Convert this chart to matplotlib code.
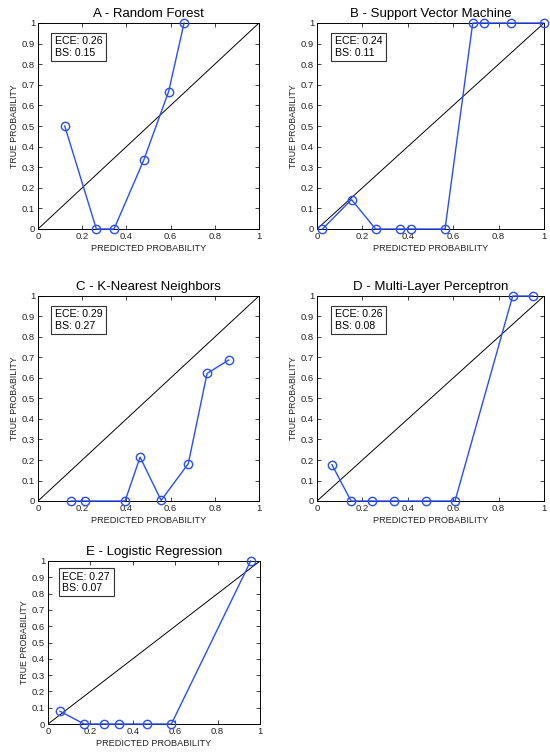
import numpy as np
import matplotlib
matplotlib.use("Agg")
import matplotlib.pyplot as plt

plt.rcParams['font.family'] = ['Liberation Sans', 'DejaVu Sans']

titles = ["A - Random Forest", "B - Support Vector Machine", "C - K-Nearest Neighbors",
          "D - Multi-Layer Perceptron", "E - Logistic Regression"]
ece = [0.26, 0.24, 0.29, 0.26, 0.27]
bs = [0.15, 0.11, 0.27, 0.08, 0.07]

rf_x = [0.121, 0.264, 0.344, 0.478, 0.591, 0.661]
rf_y = [0.5, 0.0, 0.0, 0.333, 0.667, 1.0]
svm_x = [0.024, 0.152, 0.258, 0.364, 0.414, 0.564, 0.686, 0.736, 0.854, 0.999]
svm_y = [0.0, 0.143, 0.0, 0.0, 0.0, 0.0, 1.0, 1.0, 1.0, 1.0]
knn_x = [0.149, 0.211, 0.394, 0.462, 0.557, 0.680, 0.765, 0.863]
knn_y = [0.0, 0.0, 0.0, 0.214, 0.003, 0.182, 0.622, 0.688]
mlp_x = [0.066, 0.150, 0.243, 0.340, 0.480, 0.608, 0.862, 0.951]
mlp_y = [0.177, 0.0, 0.0, 0.0, 0.0, 0.0, 1.0, 1.0]
lr_x = [0.057, 0.170, 0.264, 0.336, 0.465, 0.582, 0.956]
lr_y = [0.078, 0.0, 0.0, 0.0, 0.0, 0.0, 1.0]

xs = [rf_x, svm_x, knn_x, mlp_x, lr_x]
ys = [rf_y, svm_y, knn_y, mlp_y, lr_y]

W, H = 550, 752
# axes boxes in pixels: left, top, right, bottom
boxes = [(38, 23, 259, 229), (317, 23, 544, 229),
         (38, 296, 259, 501), (317, 296, 544, 501),
         (48, 561, 260, 724)]
box_left = [0.05, 0.053, 0.05, 0.053, 0.042]

fig = plt.figure(figsize=(W / 100, H / 100), dpi=100)
blue = '#2a4ef0'

for i in range(5):
    l, t, r, b = boxes[i]
    ax = fig.add_axes([l / W, (H - b) / H, (r - l) / W, (b - t) / H])
    ax.plot([0, 1], [0, 1], color='black', lw=0.7)
    ax.plot(xs[i], ys[i], '-o', color=blue, lw=1.0, markersize=6,
            markerfacecolor='none', markeredgewidth=1.0, clip_on=False, zorder=3)
    ax.set_xlim(0, 1)
    ax.set_ylim(0, 1)
    ax.set_xticks(np.arange(0, 1.01, 0.2))
    ax.set_yticks(np.arange(0, 1.01, 0.1))
    ax.set_xticklabels(['0', '0.2', '0.4', '0.6', '0.8', '1'])
    ax.set_yticklabels(['0', '0.1', '0.2', '0.3', '0.4', '0.5', '0.6', '0.7', '0.8', '0.9', '1'])
    ax.tick_params(direction='in', top=True, right=True, length=3, width=0.6,
                   labelsize=6.8, pad=2, colors='#222222')
    for s in ax.spines.values():
        s.set_linewidth(0.7)
    ax.set_title(titles[i], fontsize=9.5, pad=4)
    ax.set_xlabel('PREDICTED PROBABILITY', fontsize=6.6, labelpad=2, color='#222222')
    ax.set_ylabel('TRUE PROBABILITY', fontsize=6.3, labelpad=2, color='#222222')
    ax.text(box_left[i] + 0.025, 0.935, 'ECE: %.2f\nBS: %.2f' % (ece[i], bs[i]),
            transform=ax.transAxes, fontsize=7.6, va='top', ha='left', linespacing=1.15,
            bbox=dict(boxstyle='square,pad=0.35', facecolor='white',
                      edgecolor='#333333', linewidth=0.8))

fig.savefig('out.png', dpi=100)
